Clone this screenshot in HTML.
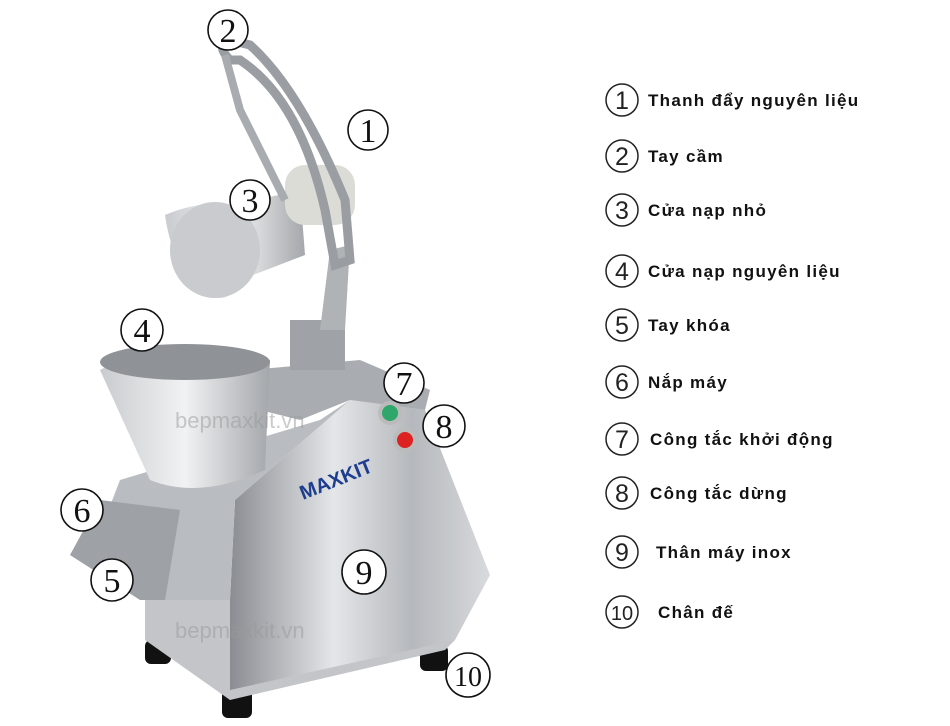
<!DOCTYPE html>
<html><head><meta charset="utf-8"><style>
html,body{margin:0;padding:0;background:#fff;width:950px;height:726px;overflow:hidden}
svg{display:block}
.n{font-family:"Liberation Serif",serif;font-size:34px;fill:#111}
.t{font-family:"Liberation Sans","DejaVu Sans",sans-serif;font-size:17px;font-weight:bold;fill:#111;letter-spacing:1.3px}
.ln{font-family:"Liberation Sans",sans-serif;font-size:22px;fill:#999}
</style></head><body>
<svg width="950" height="726" viewBox="0 0 950 726">
<defs>
<linearGradient id="m" x1="0" x2="1"><stop offset="0" stop-color="#8a8d92"/><stop offset=".4" stop-color="#e4e6e9"/><stop offset=".7" stop-color="#b5b8bc"/><stop offset="1" stop-color="#d8dadd"/></linearGradient>
<linearGradient id="m2" x1="0" x2="1"><stop offset="0" stop-color="#c9cbce"/><stop offset=".5" stop-color="#f1f2f3"/><stop offset="1" stop-color="#a4a7ab"/></linearGradient>
</defs>
<rect x="145" y="640" width="26" height="24" rx="6" fill="#111"/>
<rect x="222" y="688" width="30" height="30" rx="6" fill="#111"/>
<rect x="420" y="645" width="28" height="26" rx="6" fill="#111"/>
<polygon points="145,600 420,585 455,640 445,650 230,700 145,640" fill="#c3c5c8"/>
<polygon points="230,600 235,500 350,400 425,410 490,575 455,640 230,690" fill="url(#m)"/>
<polygon points="95,545 120,480 320,420 350,400 235,500 230,600 150,600" fill="#b9bcc0"/>
<polygon points="70,555 100,500 180,510 165,600 140,600" fill="#9ea1a5"/>
<polygon points="250,370 360,360 430,390 425,410 350,400 300,420 260,410" fill="#a9acb0"/>
<path d="M100,370 Q150,340 270,360 L265,470 Q200,500 150,480 Z" fill="url(#m2)"/>
<ellipse cx="185" cy="362" rx="85" ry="18" fill="#8f9296"/>
<rect x="290" y="320" width="55" height="50" fill="#9fa2a6"/>
<path d="M320,330 L330,250 L350,245 L345,330 Z" fill="#b0b3b6"/>
<path d="M165,215 Q200,200 235,205 L300,190 L305,255 L240,280 Q230,300 220,298 Q175,285 165,215Z" fill="url(#m2)"/>
<ellipse cx="215" cy="250" rx="45" ry="48" fill="#c9cbce"/>
<rect x="285" y="165" width="70" height="60" rx="20" fill="#dcdcd6"/>
<path d="M230,60 Q215,45 230,40 L250,45 Q300,90 345,200 L350,260 L335,265 L325,210 Q300,100 240,60Z" fill="none" stroke="#9a9da1" stroke-width="9"/>
<path d="M225,55 L240,110 L285,200" fill="none" stroke="#a8abaf" stroke-width="8"/>
<circle cx="390" cy="413" r="10" fill="#2fa66a" stroke="#bbb" stroke-width="4"/>
<circle cx="405" cy="440" r="10" fill="#d22" stroke="#bbb" stroke-width="4"/>
<text x="303" y="500" font-family="Liberation Sans,sans-serif" font-weight="bold" font-size="20" fill="#1d3d8f" transform="rotate(-22 303 500)">MAXKIT</text>
<text x="175" y="428" class="ln" opacity=".5">bepmaxkit.vn</text>
<text x="175" y="638" class="ln" opacity=".5">bepmaxkit.vn</text>
<g fill="#fff" stroke="#111" stroke-width="1.6">
<circle cx="228" cy="30" r="20"/><circle cx="368" cy="130" r="20"/><circle cx="250" cy="200" r="20"/>
<circle cx="142" cy="330" r="21"/><circle cx="82" cy="510" r="21"/><circle cx="112" cy="580" r="21"/>
<circle cx="364" cy="572" r="22"/><circle cx="404" cy="383" r="20"/><circle cx="444" cy="426" r="21"/><circle cx="468" cy="675" r="22"/>
</g>
<g class="n" text-anchor="middle">
<text x="228" y="42">2</text><text x="368" y="142">1</text><text x="250" y="212">3</text>
<text x="142" y="342">4</text><text x="82" y="522">6</text><text x="112" y="592">5</text>
<text x="364" y="584">9</text><text x="404" y="395">7</text><text x="444" y="438">8</text><text x="468" y="686" font-size="28">10</text>
</g>
<g fill="none" stroke="#222" stroke-width="1.5">
<circle cx="622" cy="100" r="16"/><circle cx="622" cy="156" r="16"/><circle cx="622" cy="210" r="16"/>
<circle cx="622" cy="271" r="16"/><circle cx="622" cy="325" r="16"/><circle cx="622" cy="382" r="16"/>
<circle cx="622" cy="439" r="16"/><circle cx="622" cy="493" r="16"/><circle cx="622" cy="552" r="16"/><circle cx="622" cy="612" r="16"/>
</g>
<g font-family="Liberation Sans,sans-serif" font-size="25" fill="#222" text-anchor="middle">
<text x="622" y="109">1</text><text x="622" y="165">2</text><text x="622" y="219">3</text><text x="622" y="280">4</text>
<text x="622" y="334">5</text><text x="622" y="391">6</text><text x="622" y="448">7</text><text x="622" y="502">8</text>
<text x="622" y="561">9</text><text x="622" y="620" font-size="20">10</text>
</g>
<g class="t">
<text x="648" y="106">Thanh đẩy nguyên liệu</text>
<text x="648" y="162">Tay cầm</text>
<text x="648" y="216">Cửa nạp nhỏ</text>
<text x="648" y="277">Cửa nạp nguyên liệu</text>
<text x="648" y="331">Tay khóa</text>
<text x="648" y="388">Nắp máy</text>
<text x="650" y="445">Công tắc khởi động</text>
<text x="650" y="499">Công tắc dừng</text>
<text x="656" y="558">Thân máy inox</text>
<text x="658" y="618">Chân đế</text>
</g>
</svg>
</body></html>
